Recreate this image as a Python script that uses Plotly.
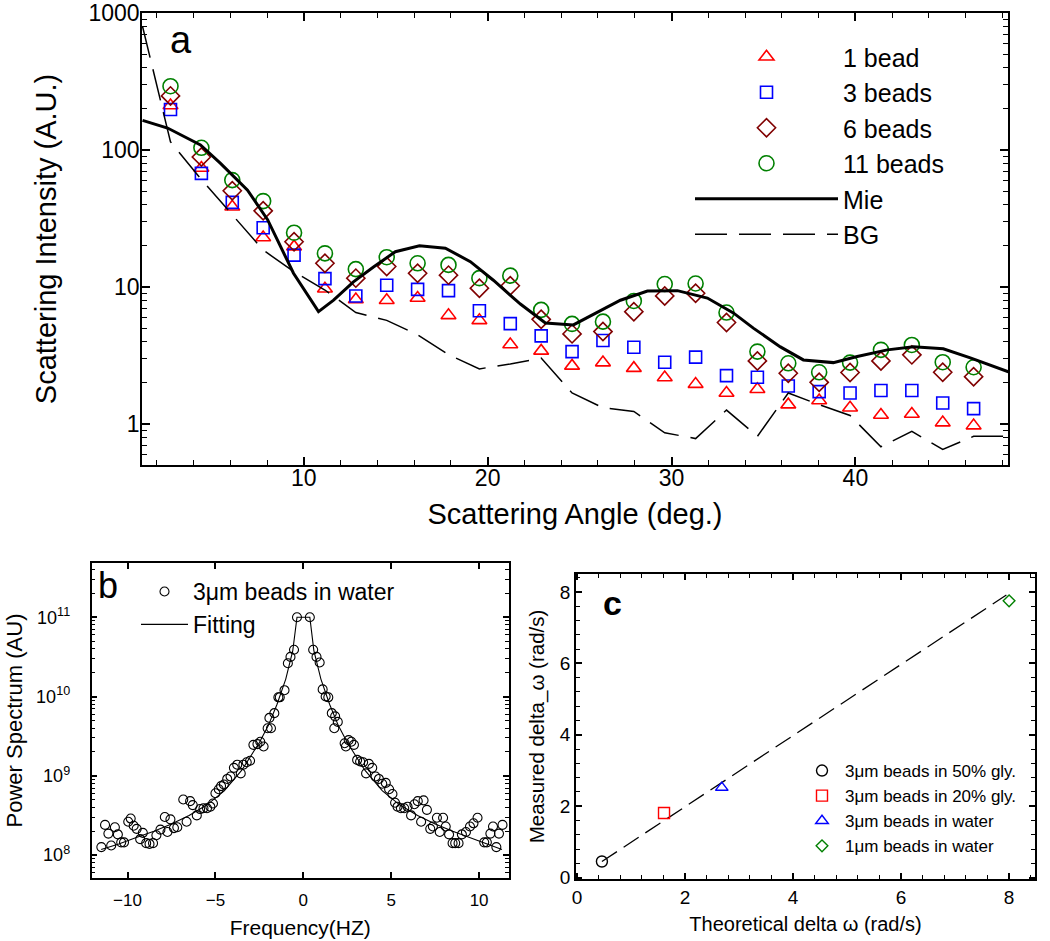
import numpy as np
import plotly.graph_objects as go

FONT = "Liberation Sans, Arial, Helvetica, sans-serif"

# ---------------- Panel a data ----------------
angles = [2.75, 4.43, 6.11, 7.79, 9.47, 11.15, 12.83, 14.51, 16.19, 17.87, 19.55, 21.23, 22.91,
          24.59, 26.27, 27.95, 29.63, 31.31, 32.99, 34.67, 36.35, 38.03, 39.71, 41.39, 43.07,
          44.75, 46.43]
bead1 = [212, 74, 38.6, 23, 19.7, 9.7, 8.1, 8.0, 8.3, 6.2, 5.7, 3.8, 3.41, 2.65, 2.80, 2.55,
         2.18, 1.95, 1.68, 1.79, 1.38, 1.48, 1.31, 1.16, 1.18, 1.02, 0.97]
bead3 = [198, 67.6, 41.5, 27.1, 17.1, 11.5, 8.6, 10.3, 9.6, 9.4, 6.7, 5.4, 4.39, 3.37, 4.06,
         3.63, 2.82, 3.07, 2.25, 2.19, 1.89, 1.72, 1.68, 1.75, 1.75, 1.42, 1.29]
bead6 = [249, 89, 50.5, 36, 21.4, 14.9, 11.6, 14.1, 12.6, 12.2, 9.8, 10.2, 5.8, 4.54, 4.72,
         6.6, 8.6, 9.0, 5.5, 2.88, 2.34, 2.01, 2.37, 2.88, 3.19, 2.38, 2.21]
bead11 = [293, 104, 60.4, 42.4, 24.9, 17.6, 13.5, 16.5, 14.9, 14.5, 11.6, 12.1, 6.8, 5.37, 5.58,
          7.9, 10.5, 10.6, 6.5, 3.37, 2.77, 2.38, 2.80, 3.47, 3.77, 2.82, 2.59]

mie_angle = [1.23, 2.59, 4.38, 5.47, 6.94, 8.03, 9.44, 10.8, 11.62, 12.70, 13.79, 14.98, 16.29,
             17.70, 19.06, 20.31, 21.78, 23.14, 24.66, 27.22, 28.69, 30.32, 31.95, 33.36, 34.45,
             35.92, 37.17, 38.80, 40.10, 41.74, 43.15, 44.78, 46.25, 48.32]
mie_val = [165, 145, 109, 80, 51, 31, 12.6, 6.6, 8.0, 10.9, 14, 18.1, 20, 19.2, 15.3, 11.2, 7.5,
           5.46, 5.28, 8.0, 9.35, 9.4, 8.3, 6.46, 5.0, 3.65, 2.93, 2.80, 3.10, 3.47, 3.65, 3.53,
           3.03, 2.40]

bg_angle = [1.23, 2.75, 4.43, 6.11, 7.79, 9.47, 11.15, 12.83, 14.51, 16.19, 17.87, 19.55, 21.23,
            22.91, 24.59, 26.27, 27.95, 29.63, 31.31, 32.99, 34.67, 36.35, 38.03, 39.71, 41.39,
            43.07, 44.75, 46.43, 48.3]
bg_val = [800, 115, 61, 33.5, 18.6, 12.9, 9.5, 6.5, 5.7, 4.47, 3.2, 2.52, 2.74, 3.02, 1.68, 1.31,
          1.23, 0.86, 0.78, 1.26, 0.81, 1.68, 1.38, 1.15, 0.68, 0.88, 0.65, 0.81, 0.81]
a_tickvals = [1, 10, 100, 1000]
a_ticktext = ["1", "10", "100", "1000"]

# ---------------- Panel b data ----------------
freq = [-11.49, -11.28, -11.09, -10.93, -10.72, -10.55, -10.36, -10.20, -9.96, -9.82, -9.65,
        -9.48, -9.28, -9.13, -8.94, -8.75, -8.55, -8.36, -8.13, -7.88, -7.73, -7.56, -7.36,
        -7.17, -6.83, -6.64, -6.44, -6.29, -6.06, -5.87, -5.68, -5.48, -5.29, -5.14, -5.00,
        -4.81, -4.68, -4.52, -4.33, -4.14, -3.95, -3.76, -3.56, -3.41, -3.22, -3.03, -2.84,
        -2.61, -2.45, -2.26, -2.03, -1.93, -1.84, -1.65, -1.42, -1.34, -1.07, -0.88, -0.73,
        -0.53, -0.36,
        0.37, 0.56, 0.75, 0.93, 1.10, 1.27, 1.42, 1.62, 1.76, 1.81, 1.96, 2.35, 2.42, 2.58, 2.73,
        2.88, 3.06, 3.23, 3.40, 3.57, 3.73, 3.92, 4.11, 4.30, 4.49, 4.69, 4.88, 5.07, 5.22, 5.36,
        5.55, 5.74, 5.93, 6.13, 6.32, 6.51, 6.70, 6.84, 7.03, 7.22, 7.37, 7.60, 7.76, 7.95, 8.10,
        8.29, 8.49, 8.64, 8.83, 9.02, 9.25, 9.48, 9.68, 9.91, 10.29, 10.44, 10.64, 10.79, 10.98,
        11.13, 11.33]
psd_exp = [8.10, 8.38, 8.27, 8.12, 8.35, 8.26, 8.16, 8.16, 8.42, 8.46, 8.37,
           8.33, 8.20, 8.28, 8.15, 8.14, 8.15, 8.25, 8.32, 8.48, 8.29, 8.45, 8.34,
           8.35, 8.70, 8.42, 8.68, 8.63, 8.50, 8.58, 8.59, 8.59, 8.61, 8.65, 8.78,
           8.83, 8.87, 8.89, 8.96, 8.99, 9.10, 9.14, 9.03, 9.14, 9.17, 9.19, 9.39,
           9.40, 9.43, 9.37, 9.60, 9.73, 9.60, 9.79, 9.99, 9.99, 10.08, 10.42, 10.50,
           10.59, 11.00,
           11.00, 10.59, 10.50, 10.43, 10.09, 10.00, 9.99, 9.79, 9.60, 9.75, 9.68, 9.41, 9.37, 9.45,
           9.43, 9.39, 9.20, 9.18, 9.17, 9.03, 9.15, 9.10, 8.99, 8.96, 8.90, 8.91, 8.83, 8.77, 8.66,
           8.61, 8.59, 8.59, 8.61, 8.50, 8.64, 8.68, 8.42, 8.69, 8.57, 8.33, 8.36, 8.47, 8.29, 8.47,
           8.36, 8.26, 8.15, 8.15, 8.15, 8.26, 8.29, 8.36, 8.40, 8.47, 8.16, 8.16, 8.27, 8.36, 8.10,
           8.27, 8.38]
fit_f = [-11.5, -10.5, -9.5, -8.5, -7.5, -6.5, -5.5, -4.5, -3.5, -2.5, -2.0, -1.5, -1.0, -0.6,
         -0.36, 0.37, 0.6, 1.0, 1.5, 2.0, 2.5, 3.5, 4.5, 5.5, 6.5, 7.5, 8.5, 9.5, 10.5, 11.3]
fit_exp = [8.07, 8.14, 8.22, 8.30, 8.39, 8.50, 8.63, 8.81, 9.07, 9.42, 9.63, 9.90, 10.22, 10.58,
           11.0, 11.0, 10.58, 10.22, 9.90, 9.63, 9.42, 9.07, 8.81, 8.63, 8.50, 8.39, 8.30, 8.22,
           8.14, 8.07]
b_tickvals = [1e8, 1e9, 1e10, 1e11]
b_ticktext = ["10<sup>8</sup>", "10<sup>9</sup>", "10<sup>10</sup>", "10<sup>11</sup>"]

# ---------------- Panel c data ----------------
c_labels = ["3\u03bcm beads in 50% gly.", "3\u03bcm beads in 20% gly.",
            "3\u03bcm beads in water", "1\u03bcm beads in water"]
theo = [0.46, 1.61, 2.68, 8.0]
meas = [0.45, 1.81, 2.52, 7.75]
c_symbols = ["circle-open", "square-open", "triangle-up-open", "diamond-open"]
c_colors = ["#000000", "#ff0000", "#0000ff", "#008000"]
c_sizes = [11, 11, 11, 9]
fit_c_x = [0.46, 7.95]
fit_c_y = [0.45, 7.91]

fig = go.Figure()

# panel a
series_a = [
    ("1 bead", bead1, "triangle-up-open", "#ff0000", 13),
    ("3 beads", bead3, "square-open", "#0000ff", 12),
    ("6 beads", bead6, "diamond-open", "#800000", 14),
    ("11 beads", bead11, "circle-open", "#008000", 15),
]
for name, vals, sym, col, sz in series_a:
    fig.add_trace(go.Scatter(x=angles, y=vals, mode="markers", name=name,
                             marker=dict(symbol=sym, size=sz, color=col, line=dict(width=1.6, color=col)),
                             xaxis="x", yaxis="y", legend="legend"))
fig.add_trace(go.Scatter(x=mie_angle, y=mie_val, mode="lines", name="Mie",
                         line=dict(color="black", width=3), xaxis="x", yaxis="y", legend="legend"))
fig.add_trace(go.Scatter(x=bg_angle, y=bg_val, mode="lines", name="BG",
                         line=dict(color="black", width=1.5, dash="32px,12px"),
                         xaxis="x", yaxis="y", legend="legend"))

# panel b
fig.add_trace(go.Scatter(x=freq, y=np.power(10.0, psd_exp), mode="markers",
                         name="3\u03bcm beads in water",
                         marker=dict(symbol="circle-open", size=9, color="black", line=dict(width=1.1)),
                         xaxis="x2", yaxis="y2", legend="legend2"))
fig.add_trace(go.Scatter(x=fit_f, y=np.power(10.0, fit_exp), mode="lines", name="Fitting",
                         line=dict(color="black", width=1.1), xaxis="x2", yaxis="y2", legend="legend2"))

# panel c
fig.add_trace(go.Scatter(x=fit_c_x, y=fit_c_y, mode="lines", showlegend=False,
                         line=dict(color="black", width=1.3, dash="18px,8px"), xaxis="x3", yaxis="y3"))
for i in range(4):
    fig.add_trace(go.Scatter(x=[theo[i]], y=[meas[i]], mode="markers", name=c_labels[i],
                             marker=dict(symbol=c_symbols[i], size=c_sizes[i], color=c_colors[i],
                                         line=dict(width=1.4, color=c_colors[i])),
                             xaxis="x3", yaxis="y3", legend="legend3"))

W, H = 1050, 941


def px_x(a, b):
    return [a / W, b / W]


def px_y(top, bottom):
    return [1 - bottom / H, 1 - top / H]


def ax(**kw):
    base = dict(showline=True, linecolor="black", linewidth=1.5, mirror="allticks",
                ticks="inside", tickcolor="black", tickwidth=1.5, showgrid=False,
                zeroline=False, automargin=False)
    base.update(kw)
    return base


fig.update_layout(
    width=W, height=H, margin=dict(l=0, r=0, t=0, b=0),
    paper_bgcolor="white", plot_bgcolor="white",
    font=dict(family=FONT, color="black"),
    xaxis=ax(domain=px_x(142, 1008), anchor="y", range=[1.2, 48.3], dtick=10, tick0=0, ticklen=8,
             minor=dict(dtick=2, tick0=0, ticks="inside", ticklen=5, tickcolor="black", tickwidth=1.3),
             tickfont=dict(size=23), ticklabelstandoff=-8,
             title=dict(text="Scattering Angle (deg.)", font=dict(size=29), standoff=13)),
    yaxis=ax(domain=px_y(13, 465), anchor="x", type="log", range=[np.log10(0.5), 3.002],
             tickmode="array", tickvals=a_tickvals, ticktext=a_ticktext, ticklen=8,
             ticklabeloverflow="allow",
             minor=dict(dtick="D1", ticks="inside", ticklen=5, tickcolor="black", tickwidth=1.3),
             tickfont=dict(size=23), ticklabelstandoff=-4,
             title=dict(text="Scattering Intensity (A.U.)", font=dict(size=29), standoff=23)),
    xaxis2=ax(domain=px_x(91.5, 509), anchor="y2", range=[-12.05, 11.7], dtick=5, tick0=0,
              ticklen=6, tickfont=dict(size=17), ticklabelstandoff=6,
              title=dict(text="Frequency(HZ)", font=dict(size=21), standoff=11)),
    yaxis2=ax(domain=px_y(563, 878), anchor="x2", type="log", range=[7.71, 11.685],
              tickmode="array", tickvals=b_tickvals, ticktext=b_ticktext,
              ticklen=6, tickfont=dict(size=18), ticklabelstandoff=16,
              minor=dict(dtick="D1", ticks="inside", ticklen=4, tickcolor="black", tickwidth=1.1),
              title=dict(text="Power Spectrum (AU)", font=dict(size=22), standoff=7)),
    xaxis3=ax(domain=px_x(576, 1035), anchor="y3", range=[-0.02, 8.48], dtick=2, tick0=0,
              ticklen=6, tickfont=dict(size=19),
              minor=dict(dtick=0.4, tick0=0, ticks="inside", ticklen=4, tickcolor="black", tickwidth=1.1),
              title=dict(text="Theoretical delta \u03c9 (rad/s)", font=dict(size=20), standoff=10)),
    yaxis3=ax(domain=px_y(574, 879), anchor="x3", range=[-0.04, 8.5], dtick=2, tick0=0,
              ticklen=6, tickfont=dict(size=19),
              minor=dict(dtick=0.4, tick0=0, ticks="inside", ticklen=4, tickcolor="black", tickwidth=1.1),
              title=dict(text="Measured delta_\u03c9 (rad/s)", font=dict(size=20.5), standoff=10)),
    legend=dict(x=690 / W, y=1 - 34 / H, xanchor="left", yanchor="top", bgcolor="rgba(0,0,0,0)",
                font=dict(size=25), itemwidth=143, tracegroupgap=0),
    legend2=dict(x=136 / W, y=1 - 570 / H, xanchor="left", yanchor="top", bgcolor="rgba(0,0,0,0)",
                 font=dict(size=23), itemwidth=47, tracegroupgap=0),
    legend3=dict(x=799 / W, y=1 - 753 / H, xanchor="left", yanchor="top", bgcolor="rgba(0,0,0,0)",
                 font=dict(size=17), itemwidth=36, tracegroupgap=0),
    annotations=[
        dict(text="a", x=181 / W, y=1 - 40 / H, xref="paper", yref="paper", showarrow=False,
             font=dict(size=38), xanchor="center", yanchor="middle"),
        dict(text="b", x=108 / W, y=1 - 585 / H, xref="paper", yref="paper", showarrow=False,
             font=dict(size=36), xanchor="center", yanchor="middle"),
        dict(text="<b>c</b>", x=612 / W, y=1 - 603 / H, xref="paper", yref="paper", showarrow=False,
             font=dict(size=34), xanchor="center", yanchor="middle"),
    ],
)

# remove the default page margin so the figure fills the window exactly
fig.write_html("out.html", config={"displayModeBar": False},
               post_script="document.body.style.margin='0px';")
